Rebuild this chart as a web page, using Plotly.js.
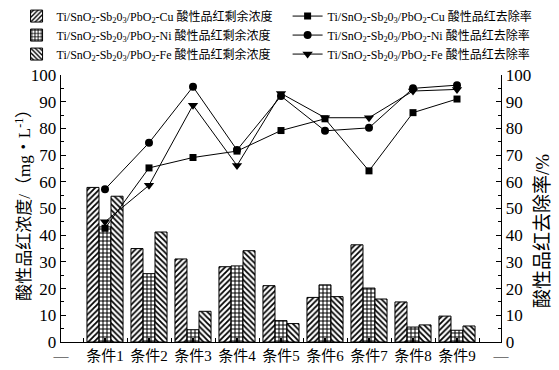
<!DOCTYPE html>
<html>
<head>
<meta charset="utf-8">
<script src="https://cdn.plot.ly/plotly-3.0.1.min.js"></script>
<style>
  html, body { margin: 0; padding: 0; background: #fff; }
  #chart { width: 559px; height: 370px; }
</style>
</head>
<body>
<div id="chart"></div>
<script>
// Conditions along the x axis (numeric positions 1..9), with dashes at both ends
const tickPos = [0, 1, 2, 3, 4, 5, 6, 7, 8, 9, 10];
const tickLabels = ['—', '条件1', '条件2', '条件3', '条件4', '条件5', '条件6', '条件7', '条件8', '条件9', '—'];
const conditions = [1, 2, 3, 4, 5, 6, 7, 8, 9];

// Residual acid fuchsin concentration (mg·L⁻¹)
const concCu = [57.9, 35.0, 31.1, 28.2, 21.1, 16.7, 36.4, 15.0, 9.7];
const concNi = [43.1, 25.6, 4.6, 28.5, 8.0, 21.4, 20.2, 5.6, 4.4];
const concFe = [54.6, 41.2, 11.5, 34.2, 6.9, 17.0, 16.1, 6.4, 6.0];

// Acid fuchsin removal rate (%)
const rateCu = [42.6, 65.2, 69.1, 71.5, 79.2, 83.6, 64.1, 85.9, 91.0];
const rateNi = [57.2, 74.6, 95.6, 71.9, 92.1, 79.1, 80.2, 95.0, 96.2];
const rateFe = [45.0, 58.7, 88.7, 66.1, 93.1, 84.0, 84.0, 94.0, 94.6];

const electrode = 'Ti/SnO<sub>2</sub>-Sb<sub>2</sub>0<sub>3</sub>/PbO<sub>2</sub>-';
const FONT = 'Liberation Serif, Times New Roman, Noto Sans CJK SC, serif';

function barTrace(y, metal, shape) {
  return {
    type: 'bar', x: conditions, y: y, yaxis: 'y', legend: 'legend',
    name: electrode + metal + ' 酸性品红剩余浓度',
    marker: {
      color: '#fff',
      line: { color: '#000', width: 1 },
      pattern: { shape: shape, fgcolor: '#000', bgcolor: '#fff', size: 4, solidity: 0.45 }
    }
  };
}
function lineTrace(y, metal, symbol, size) {
  return {
    type: 'scatter', mode: 'lines+markers', x: conditions, y: y, yaxis: 'y2', legend: 'legend2',
    name: electrode + metal + ' 酸性品红去除率',
    line: { color: '#000', width: 1 },
    marker: { symbol: symbol, size: size, color: '#000' }
  };
}

const data = [
  barTrace(concCu, 'Cu', '/'),
  barTrace(concNi, 'Ni', '+'),
  barTrace(concFe, 'Fe', '\\'),
  lineTrace(rateCu, 'Cu', 'square', 7),
  lineTrace(rateNi, 'Ni', 'circle', 8),
  lineTrace(rateFe, 'Fe', 'triangle-down', 9)
];

const yCommon = {
  range: [0, 100], dtick: 10, tick0: 0,
  showline: true, linecolor: '#000', linewidth: 1.3,
  ticks: 'inside', ticklen: 5, tickwidth: 1.2, tickcolor: '#000',
  minor: { ticks: 'inside', dtick: 5, ticklen: 3, tickwidth: 1, tickcolor: '#000' },
  showgrid: false, zeroline: false,
  tickfont: { family: FONT, size: 17, color: '#000' }
};

const layout = {
  width: 559, height: 370,
  margin: { l: 61, r: 58, t: 75, b: 28, autoexpand: false },
  paper_bgcolor: '#fff', plot_bgcolor: '#fff',
  font: { family: FONT, color: '#000' },
  barmode: 'group', bargap: 0.18, bargroupgap: 0,
  xaxis: {
    range: [0, 10], tickmode: 'array', tickvals: tickPos, ticktext: tickLabels,
    showline: true, linecolor: '#000', linewidth: 1.3,
    ticks: 'inside', ticklen: 4, tickwidth: 1.2, tickcolor: '#000',
    minor: { ticks: 'inside', tickmode: 'linear', tick0: 0.5, dtick: 1, ticklen: 4, tickwidth: 1, tickcolor: '#000' },
    showgrid: false, zeroline: false,
    tickfont: { family: FONT, size: 15, color: '#000' }
  },
  yaxis: Object.assign({}, yCommon),
  yaxis2: Object.assign({}, yCommon, { overlaying: 'y', side: 'right' }),
  showlegend: true,
  legend: {
    x: -0.101, y: 1.275, xanchor: 'left', yanchor: 'top',
    bgcolor: 'rgba(0,0,0,0)', tracegroupgap: 0,
    font: { family: FONT, size: 12, color: '#000' }
  },
  legend2: {
    x: 0.515, y: 1.275, xanchor: 'left', yanchor: 'top',
    bgcolor: 'rgba(0,0,0,0)', tracegroupgap: 0,
    font: { family: FONT, size: 12, color: '#000' }
  },
  annotations: [
    {
      text: '酸性品红浓度/（mg・L<sup>-1</sup>）', textangle: -90,
      xref: 'paper', yref: 'paper', x: -0.086, y: 0.53,
      xanchor: 'center', yanchor: 'middle', showarrow: false,
      font: { family: FONT, size: 17, color: '#000' }
    },
    {
      text: '酸性品红去除率/%', textangle: -90,
      xref: 'paper', yref: 'paper', x: 1.093, y: 0.415,
      xanchor: 'center', yanchor: 'middle', showarrow: false,
      font: { family: FONT, size: 19, color: '#000' }
    }
  ]
};

Plotly.newPlot('chart', data, layout, { displayModeBar: false, staticPlot: true });
</script>
</body>
</html>
